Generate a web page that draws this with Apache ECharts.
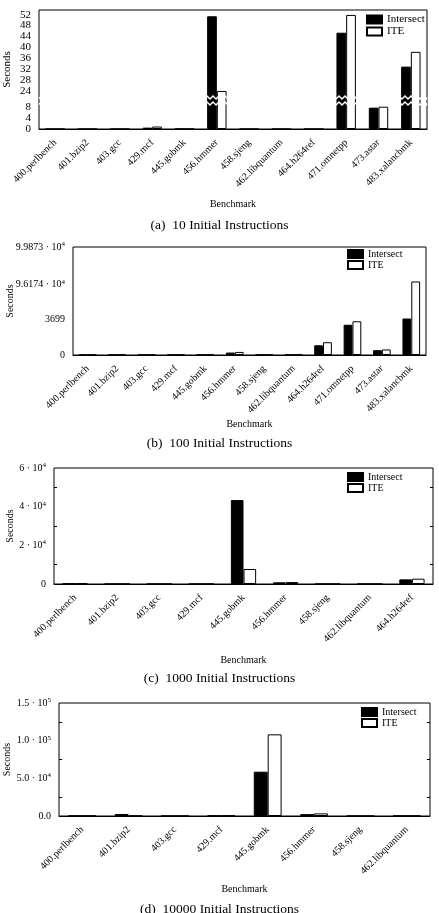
<!DOCTYPE html>
<html>
<head>
<meta charset="utf-8">
<script src="https://cdn.jsdelivr.net/npm/echarts@6/dist/echarts.min.js"></script>
<style>
html, body { margin: 0; padding: 0; background: #fff; }
#main { width: 439px; height: 913px; }
</style>
</head>
<body>
<div id="main"></div>
<script>
var benchmarks = ['400.perlbench', '401.bzip2', '403.gcc', '429.mcf', '445.gobmk', '456.hmmer',
    '458.sjeng', '462.libquantum', '464.h264ref', '471.omnetpp', '473.astar', '483.xalancbmk'];

// (a) 10 initial instructions
var a_intersect = [0, 0, 0, 0.5, 0.05, 51.4, 0, 0, 0, 45.4, 7.8, 33];
var a_ite = [0, 0, 0, 0.9, 0.05, 24.1, 0, 0, 0, 51.9, 8.4, 38.4];
var a_ticks = [0, 4, 8, 24, 28, 32, 36, 40, 44, 48, 52];
var a_tick_labels = ['0', '4', '8', '24', '28', '32', '36', '40', '44', '48', '52'];

// (b) 100 initial instructions
var b_intersect = [30, 30, 30, 30, 30, 240, 30, 30, 950, 2960, 470, 3570];
var b_ite = [30, 30, 30, 30, 30, 300, 30, 30, 1250, 3300, 540, 96500];
var b_ticks = [0, 3699, 96174, 99873];
var b_tick_labels = ['0', '3699', '9.6174 · 10^4', '9.9873 · 10^4'];

// (c) 1000 initial instructions
var c_intersect = [300, 40, 40, 40, 43400, 880, 40, 40, 2400];
var c_ite = [300, 40, 40, 40, 7750, 1000, 40, 40, 2750];
var c_ticks = [0, 20000, 40000, 60000];
var c_tick_labels = ['0', '2 · 10^4', '4 · 10^4', '6 · 10^4'];

// (d) 10000 initial instructions
var d_intersect = [400, 2700, 150, 500, 58800, 2500, 150, 400];
var d_ite = [400, 300, 150, 500, 108400, 3500, 150, 400];
var d_ticks = [0, 50000, 100000, 150000];
var d_tick_labels = ['0.0', '5.0 · 10^4', '1.0 · 10^5', '1.5 · 10^5'];

var FONT = 'Liberation Serif';
var chart = echarts.init(document.getElementById('main'), null, {renderer: 'canvas'});

function sup(s) {
    var i = s.indexOf('^');
    if (i < 0) return '{m|' + s + '}';
    return '{m|' + s.slice(0, i) + '}{s|' + s.slice(i + 1) + '}';
}

function tickFormatter(ticks, labels) {
    return function (v) {
        var i = ticks.indexOf(v);
        return i < 0 ? '' : sup(labels[i]);
    };
}

var panels = [
    {n: 12, inter: a_intersect, ite: a_ite, ticks: a_ticks, labels: a_tick_labels,
     grid: {left: 39, top: 10, width: 388, height: 119},
     y: {min: 0, max: 53.7, interval: 4, breaks: [{start: 8, end: 24, gap: 5.8}]},
     // zigzag cut drawn through the bars, inside the gap
     zig: [{start: 9.35, end: 21.8, gap: 2.2}],
     fs: 11, nameFs: 11, nameGap: 26, xNameGap: 70, legend: {left: 366, top: 14}, title: '(a)  10 Initial Instructions', titleTop: 218},
    {n: 12, inter: b_intersect, ite: b_ite, ticks: b_ticks, labels: b_tick_labels,
     grid: {left: 73, top: 247, width: 353, height: 108},
     y: {min: 0, max: 99873, interval: 3699, breaks: [{start: 3699, end: 93000, gap: 0}]},
     fs: 10, nameFs: 10, nameGap: 58, xNameGap: 64, legend: {left: 347, top: 249}, title: '(b)  100 Initial Instructions', titleTop: 436},
    {n: 9, inter: c_intersect, ite: c_ite, ticks: c_ticks, labels: c_tick_labels,
     grid: {left: 54, top: 468, width: 379, height: 116},
     y: {min: 0, max: 60000, interval: 20000, minor: true},
     fs: 10, nameFs: 10, nameGap: 39, xNameGap: 71, legend: {left: 347, top: 472}, title: '(c)  1000 Initial Instructions', titleTop: 671},
    {n: 8, inter: d_intersect, ite: d_ite, ticks: d_ticks, labels: d_tick_labels,
     grid: {left: 59, top: 703, width: 371, height: 113},
     y: {min: 0, max: 150000, interval: 50000, minor: true},
     fs: 10, nameFs: 10, nameGap: 47, xNameGap: 68, legend: {left: 361, top: 707}, title: '(d)  10000 Initial Instructions', titleTop: 902}
];

var grids = [], xAxes = [], yAxes = [], series = [], legends = [], titles = [];

panels.forEach(function (p, gi) {
    grids.push(Object.assign({show: true, borderColor: '#000', borderWidth: 1, outerBoundsMode: 'none'}, p.grid));

    xAxes.push({
        type: 'category', gridIndex: gi, data: benchmarks.slice(0, p.n),
        axisLine: {lineStyle: {color: '#000', width: 1}},
        axisTick: {inside: true, length: 4, lineStyle: {color: '#000'}},
        axisLabel: {rotate: 45, interval: 0, margin: 12, fontFamily: FONT, fontSize: 10, color: '#000'},
        name: 'Benchmark', nameLocation: 'middle', nameGap: p.xNameGap, nameMoveOverlap: false,
        nameTextStyle: {fontFamily: FONT, fontSize: 10, color: '#000'}
    });

    var dataAxis = yAxes.length;
    ['left', 'right'].forEach(function (pos) {
        var ax = {
            type: 'value', gridIndex: gi, position: pos,
            min: p.y.min, max: p.y.max, interval: p.y.interval,
            axisLine: {show: false},
            axisTick: {inside: true, length: 4, lineStyle: {color: '#000'}},
            splitLine: {show: false},
            axisLabel: pos === 'left' ? {
                margin: 8, color: '#000', fontFamily: FONT, fontSize: p.fs,
                formatter: tickFormatter(p.ticks, p.labels),
                rich: {
                    m: {fontFamily: FONT, fontSize: p.fs, color: '#000'},
                    s: {fontFamily: FONT, fontSize: 7, color: '#000', padding: [0, 0, 6, 0]}
                }
            } : {show: false}
        };
        if (p.y.minor) {
            ax.minorTick = {show: true, splitNumber: 2, length: 3, lineStyle: {color: '#000'}};
        }
        if (p.y.breaks) {
            ax.breaks = p.y.breaks;
            ax.breakArea = {show: false, expandOnClick: false};
        }
        if (pos === 'left') {
            ax.name = 'Seconds';
            ax.nameLocation = 'middle';
            ax.nameGap = p.nameGap;
            ax.nameMoveOverlap = false;
            ax.nameTextStyle = {fontFamily: FONT, fontSize: p.nameFs, color: '#000'};
        }
        yAxes.push(ax);
    });

    if (p.zig) {
        // helper axis: only draws the white zigzag lines across the broken bars
        yAxes.push({
            type: 'value', gridIndex: gi, position: 'right',
            min: p.y.min, max: p.y.max, interval: p.y.interval,
            axisLine: {show: false}, axisTick: {show: false}, axisLabel: {show: false},
            splitLine: {show: false},
            breaks: p.zig,
            breakArea: {
                show: true, expandOnClick: false,
                zigzagAmplitude: 1.5, zigzagMinSpan: 3, zigzagMaxSpan: 3,
                itemStyle: {color: 'rgba(0,0,0,0)', borderColor: '#fff', borderWidth: 1.5, borderType: 'solid', opacity: 1}
            }
        });
    }

    series.push({
        name: 'Intersect', type: 'bar', xAxisIndex: gi, yAxisIndex: dataAxis,
        data: p.inter, barGap: '0%', barCategoryGap: '40%',
        itemStyle: {color: '#000', borderColor: '#000', borderWidth: 1},
        emphasis: {disabled: true}
    });
    series.push({
        name: 'ITE', type: 'bar', xAxisIndex: gi, yAxisIndex: dataAxis,
        data: p.ite, barGap: '0%', barCategoryGap: '40%',
        itemStyle: {color: '#fff', borderColor: '#000', borderWidth: 1},
        emphasis: {disabled: true}
    });

    legends.push({
        left: p.legend.left, top: p.legend.top, orient: 'vertical', icon: 'rect',
        itemWidth: 15, itemHeight: 8, itemGap: 1, padding: 0,
        data: ['Intersect', 'ITE'],
        textStyle: {fontFamily: FONT, fontSize: p.fs, color: '#000', lineHeight: 10}
    });

    titles.push({
        text: p.title, left: 'center', top: p.titleTop, padding: 0,
        textStyle: {fontFamily: FONT, fontSize: 13.5, fontWeight: 'normal', color: '#000'}
    });
});

chart.setOption({
    animation: false,
    title: titles,
    legend: legends,
    grid: grids,
    xAxis: xAxes,
    yAxis: yAxes,
    series: series
});
</script>
</body>
</html>
